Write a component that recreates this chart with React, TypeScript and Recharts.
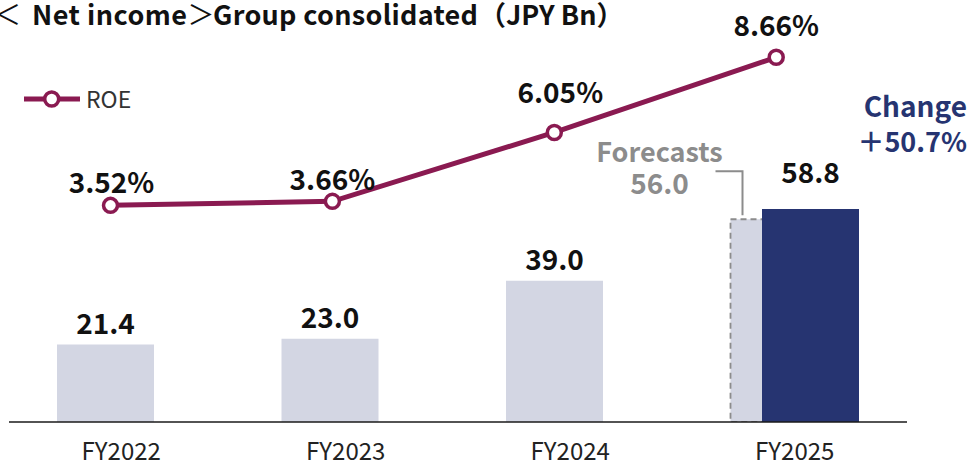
import React from 'react';
import { ComposedChart, Bar, Line, XAxis, YAxis, Cell, LabelList } from 'recharts';

// ---- data ----
const years = ['FY2022', 'FY2023', 'FY2024', 'FY2025'];
// light bars: FY2022–FY2024 actual net income, FY2025 forecast (JPY Bn)
const lightBars = [21.4, 23.0, 39.0, 56.0];
// dark bar: FY2025 actual net income (JPY Bn)
const darkBars = [null, null, null, 58.8];
// ROE (%)
const roe = [3.52, 3.66, 6.05, 8.66];
const forecastIndex = 3;
const titleParts = ['＜', 'Net income', '＞', 'Group consolidated', '（JPY Bn）'];
const changeTitle = 'Change';
const changeValue = '＋50.7%';
const legendLabel = 'ROE';
const forecastText = 'Forecasts';

// ---- styles ----
const FONT = '"Noto Sans CJK JP", "Noto Sans", sans-serif';
const LIGHT = '#d3d6e3';
const DARK = '#263471';
const MAROON = '#8a1a51';
const GRAY = '#8c8c8c';
const TEXT = '#111';
const roeLift = [12, 11, 29, 21];
const roeShift = [1, 0, 6, 0];

const data = years.map((year, i) => ({
  year,
  i,
  light: lightBars[i],
  dark: darkBars[i],
  roe: roe[i],
}));

const LightLabel = (props: any) => {
  const { x, y, width, value, index } = props;
  if (value == null) return null;
  const isForecast = index === forecastIndex;
  if (isForecast) {
    const ax = x - 71;
    return (
      <g>
        <text x={ax} y={y - 57} textAnchor="middle" fontSize={27} fontWeight={700} fill={GRAY} fontFamily={FONT}>
          {forecastText}
        </text>
        <text x={ax} y={y - 25} textAnchor="middle" fontSize={28} fontWeight={700} fill={GRAY} fontFamily={FONT}>
          {Number(value).toFixed(1)}
        </text>
        <polyline
          points={`${x - 15},${y - 48} ${x + 12},${y - 48} ${x + 12},${y - 4}`}
          fill="none"
          stroke={GRAY}
          strokeWidth={2}
        />
      </g>
    );
  }
  return (
    <text x={x + width / 2} y={y - 11} textAnchor="middle" fontSize={28} fontWeight={700} fill={TEXT} fontFamily={FONT}>
      {Number(value).toFixed(1)}
    </text>
  );
};

const DarkLabel = (props: any) => {
  const { x, y, width, value } = props;
  if (value == null) return null;
  return (
    <text x={x + width / 2} y={y - 26} textAnchor="middle" fontSize={28} fontWeight={700} fill={TEXT} fontFamily={FONT}>
      {Number(value).toFixed(1)}
    </text>
  );
};

const RoeLabel = (props: any) => {
  const { x, y, value, index } = props;
  if (value == null) return null;
  return (
    <text
      x={x + (roeShift[index] ?? 0)}
      y={y - (roeLift[index] ?? 14)}
      textAnchor="middle"
      fontSize={28}
      fontWeight={700}
      fill={TEXT}
      fontFamily={FONT}
    >
      {Number(value).toFixed(2)}%
    </text>
  );
};

const XTick = (props: any) => {
  const { x, y, payload } = props;
  return (
    <text x={x} y={y + 30} textAnchor="middle" fontSize={24} fill="#222" fontFamily={FONT}>
      {payload.value}
    </text>
  );
};

const titleStyle = { fontSize: 27, fontWeight: 700, fill: TEXT, fontFamily: FONT } as const;

export default function App() {
  return (
    <div style={{ position: 'fixed', left: 0, top: 0, width: 971, height: 462, background: '#fff', overflow: 'hidden' }}>
      <ComposedChart
        width={971}
        height={462}
        data={data}
        margin={{ top: 40, right: 64, bottom: 0, left: 9 }}
        barSize={97}
        barGap={-65.5}
      >
        <XAxis
          xAxisId="cat"
          dataKey="year"
          type="category"
          height={40}
          tickLine={false}
          axisLine={{ stroke: '#1a1a1a', strokeWidth: 1.5 }}
          tick={<XTick />}
          interval={0}
        />
        <XAxis xAxisId="num" dataKey="i" type="number" domain={[-0.4574, 3.5894]} hide allowDataOverflow />
        <YAxis yAxisId="bar" domain={[0, 105.5]} hide allowDataOverflow />
        <YAxis yAxisId="roe" domain={[-4, 9.26]} hide allowDataOverflow />
        <Bar xAxisId="cat" yAxisId="bar" dataKey="light" fill={LIGHT} isAnimationActive={false}>
          {data.map((d, i) => (
            <Cell
              key={d.year}
              fill={LIGHT}
              stroke={i === forecastIndex ? GRAY : 'none'}
              strokeWidth={i === forecastIndex ? 1.8 : 0}
              strokeDasharray={i === forecastIndex ? '6 4' : undefined}
            />
          ))}
          <LabelList dataKey="light" content={<LightLabel />} />
        </Bar>
        <Bar xAxisId="cat" yAxisId="bar" dataKey="dark" fill={DARK} isAnimationActive={false}>
          <LabelList dataKey="dark" content={<DarkLabel />} />
        </Bar>
        <Line
          xAxisId="num"
          yAxisId="roe"
          dataKey="roe"
          stroke={MAROON}
          strokeWidth={5}
          dot={{ r: 7, fill: '#fff', stroke: MAROON, strokeWidth: 3.5 }}
          activeDot={false}
          isAnimationActive={false}
        >
          <LabelList dataKey="roe" content={<RoeLabel />} />
        </Line>
      </ComposedChart>
      <svg
        width={971}
        height={462}
        style={{ position: 'absolute', left: 0, top: 0, pointerEvents: 'none' }}
      >
        <text x={-6} y={25} {...titleStyle} fontWeight={400}>{titleParts[0]}</text>
        <text x={32} y={25} {...titleStyle} textLength={155} lengthAdjust="spacing">{titleParts[1]}</text>
        <text x={201} y={25} {...titleStyle} fontWeight={400} textAnchor="middle">{titleParts[2]}</text>
        <text x={213} y={25} {...titleStyle} textLength={265} lengthAdjust="spacing">{titleParts[3]}</text>
        <text x={479} y={25} {...titleStyle}>{titleParts[4]}</text>
        <line x1={24} y1={99} x2={80} y2={99} stroke={MAROON} strokeWidth={5} />
        <circle cx={51.7} cy={99} r={7} fill="#fff" stroke={MAROON} strokeWidth={3.5} />
        <text x={86} y={108} fontSize={23} fill="#333" fontFamily={FONT}>
          {legendLabel}
        </text>
        <text x={967} y={117} textAnchor="end" fontSize={28} fontWeight={700} fill={DARK} fontFamily={FONT}>
          {changeTitle}
        </text>
        <text x={967} y={152} textAnchor="end" fontSize={27} fontWeight={700} fill={DARK} fontFamily={FONT}>
          {changeValue}
        </text>
      </svg>
    </div>
  );
}
